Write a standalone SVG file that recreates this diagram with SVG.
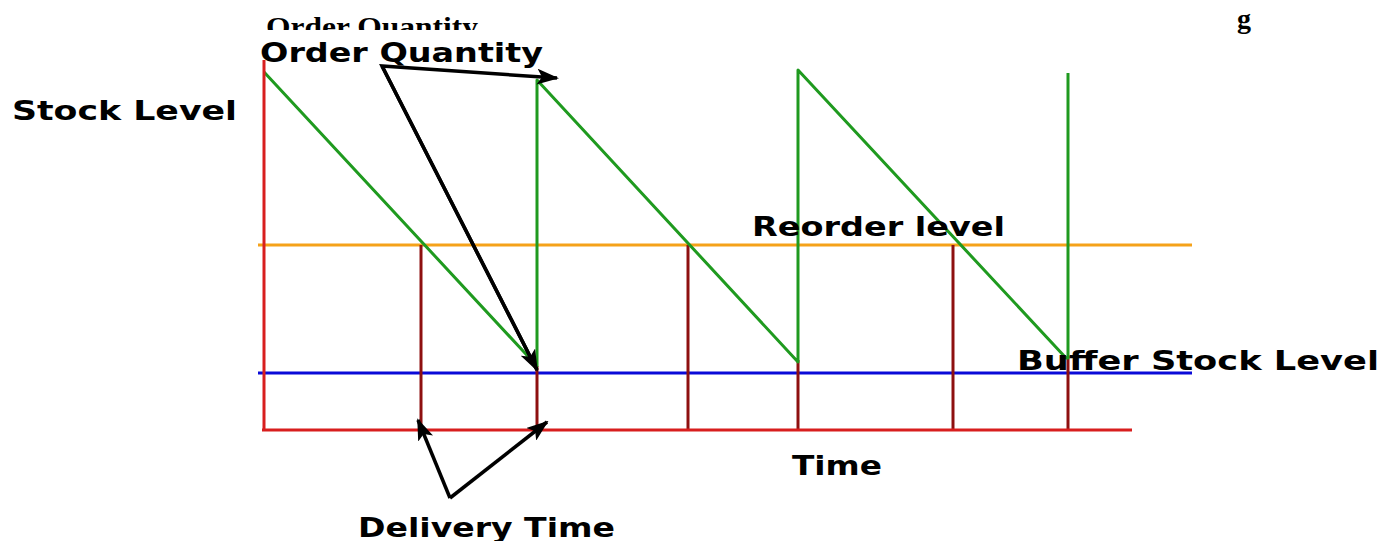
<svg xmlns="http://www.w3.org/2000/svg" width="1394" height="541" viewBox="0 0 1394 541">
  <style>
    .lbl { font-family: "DejaVu Sans", Verdana, sans-serif; font-weight: bold; font-size: 26px; fill: #000; }
    .head { font-family: "Liberation Serif", "Times New Roman", serif; font-weight: bold; font-size: 28px; fill: #000; }
    .axis { stroke: #d81e1e; stroke-width: 3; fill: none; }
    .drop { stroke: #8e1010; stroke-width: 3; fill: none; }
    .saw { stroke: #1f9a1f; stroke-width: 3; fill: none; stroke-linejoin: round; }
    .reorder { stroke: #f5a21a; stroke-width: 3; }
    .buffer { stroke: #0a0ad8; stroke-width: 3; }
    .arrow { stroke: #000; stroke-width: 3.5; fill: none; marker-end: url(#ah); }
  </style>
  <defs>
    <marker id="ah" markerUnits="userSpaceOnUse" markerWidth="22" markerHeight="16" refX="20" refY="8" orient="auto">
      <path d="M0,0 L22,8 L0,16 L5,8 z" fill="#000"/>
    </marker>
    <clipPath id="topclip"><rect x="0" y="0" width="1394" height="30"/></clipPath>
  </defs>
  <rect width="1394" height="541" fill="#fff"/>

  <g id="heading" clip-path="url(#topclip)">
    <text class="head" x="266" y="36" textLength="212" lengthAdjust="spacingAndGlyphs">Order Quantity</text>
  </g>
  <g id="heading-g">
    <text class="head" x="1237" y="28">g</text>
  </g>

  <g id="chart">
    <line class="reorder" x1="258" y1="245" x2="1192" y2="245"/>
    <line class="buffer" x1="258" y1="373" x2="1192" y2="373"/>
    <line class="drop" x1="421" y1="245" x2="421" y2="430"/>
    <line class="drop" x1="537" y1="366" x2="537" y2="430"/>
    <line class="drop" x1="688" y1="245" x2="688" y2="430"/>
    <line class="drop" x1="798" y1="360" x2="798" y2="430"/>
    <line class="drop" x1="953" y1="245" x2="953" y2="430"/>
    <line class="drop" x1="1068" y1="356" x2="1068" y2="430"/>
    <polyline class="saw" points="264,72 537,366 537,80 798,362 798,70 1066,358 1068,358 1068,73"/>
    <line class="axis" x1="264" y1="60" x2="264" y2="430"/>
    <line class="axis" x1="262" y1="430" x2="1132" y2="430"/>
  </g>

  <g id="label-order-quantity">
    <text class="lbl" x="260" y="62" textLength="283" lengthAdjust="spacingAndGlyphs">Order Quantity</text>
  </g>
  <g id="label-stock-level">
    <text class="lbl" x="12" y="120" textLength="225" lengthAdjust="spacingAndGlyphs">Stock Level</text>
  </g>
  <g id="label-reorder-level">
    <text class="lbl" x="752" y="236" textLength="253" lengthAdjust="spacingAndGlyphs">Reorder level</text>
  </g>
  <g id="label-buffer-stock-level">
    <text class="lbl" x="1017" y="370" textLength="362" lengthAdjust="spacingAndGlyphs">Buffer Stock Level</text>
  </g>
  <g id="label-time">
    <text class="lbl" x="792" y="475" textLength="90" lengthAdjust="spacingAndGlyphs">Time</text>
  </g>
  <g id="label-delivery-time">
    <text class="lbl" x="358" y="537" textLength="257" lengthAdjust="spacingAndGlyphs">Delivery Time</text>
  </g>

  <g id="connectors">
    <polyline class="arrow" points="537,370 382,66 557,78"/>
    <path class="arrow" d="M382,66 L537,370"/>
    <path class="arrow" d="M450,498 L418,420"/>
    <path class="arrow" d="M450,498 L547,422"/>
  </g>
</svg>
